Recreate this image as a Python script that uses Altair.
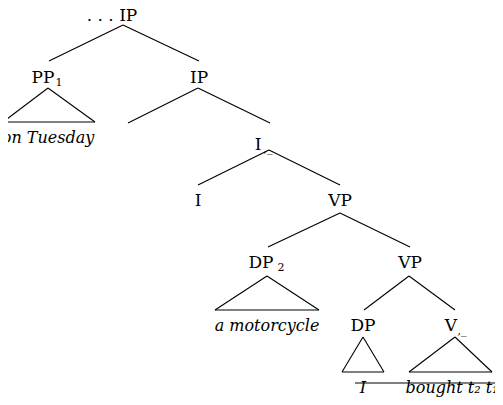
import altair as alt
import pandas as pd

# edges (pixel coordinates of the tree drawing)
ex1 = [123,123, 48,48,3, 198,198, 269,269, 340,340, 267,267,215, 409,409, 363,363,342, 455,455,409, 355]
ey1 = [25,25, 88,88,122, 88,88, 150,150, 213,213, 276,276,310, 276,276, 337,337,372, 337,337,372, 383]
ex2 = [49,199, 3,95,95, 128,270, 198,340, 268,410, 215,319,319, 364,455, 342,384,384, 409,492,492, 500]
ey2 = [61,61, 122,122,122, 123,123, 185,185, 247,247, 310,310,310, 310,310, 372,372,372, 372,372,372, 383]

# node labels
lab = [". . . IP", "PP", "IP", "I", "I", "VP", "DP", "VP", "DP", "V"]
lx = [112, 43, 199, 258, 198, 340, 261, 410, 363, 451]
ly = [16, 78, 78, 145, 201, 201, 263, 263, 326, 326]
# subscripts
sub = ["1", ",_", "2", ",_"]
sx = [59, 268, 281, 462]
sy = [83, 149, 268, 331]
# leaves (italic)
leaf = ["on Tuesday", "a motorcycle", "I", "bought t\u2082 t\u2081"]
fx = [48, 267, 363, 452]
fy = [138, 326, 388, 388]

X = alt.Scale(domain=[8, 495], range=[0, 487])
Y = alt.Scale(domain=[8, 397], range=[0, 389])

edges = pd.DataFrame({"x": ex1, "y": ey1, "x2": ex2, "y2": ey2})
nodes = pd.DataFrame({"t": lab, "x": lx, "y": ly})
subs = pd.DataFrame({"t": sub, "x": sx, "y": sy})
leaves = pd.DataFrame({"t": leaf, "x": fx, "y": fy})

F = "DejaVu Serif"
r = alt.Chart(edges).mark_rule(color="black", strokeWidth=1.1).encode(
    x=alt.X("x:Q", scale=X, axis=None), y=alt.Y("y:Q", scale=Y, axis=None),
    x2="x2:Q", y2="y2:Q")
n = alt.Chart(nodes).mark_text(font=F, fontSize=17, baseline="middle").encode(
    x=alt.X("x:Q", scale=X), y=alt.Y("y:Q", scale=Y), text="t:N")
s = alt.Chart(subs).mark_text(font=F, fontSize=11, baseline="middle").encode(
    x=alt.X("x:Q", scale=X), y=alt.Y("y:Q", scale=Y), text="t:N")
l = alt.Chart(leaves).mark_text(font=F, fontSize=16, fontStyle="italic", baseline="middle").encode(
    x=alt.X("x:Q", scale=X), y=alt.Y("y:Q", scale=Y), text="t:N")

chart = (r + n + s + l).properties(width=487, height=389, padding=0, autosize="none").configure_view(stroke=None)
chart.save("out.html", embed_options={"renderer": "svg", "actions": False})
